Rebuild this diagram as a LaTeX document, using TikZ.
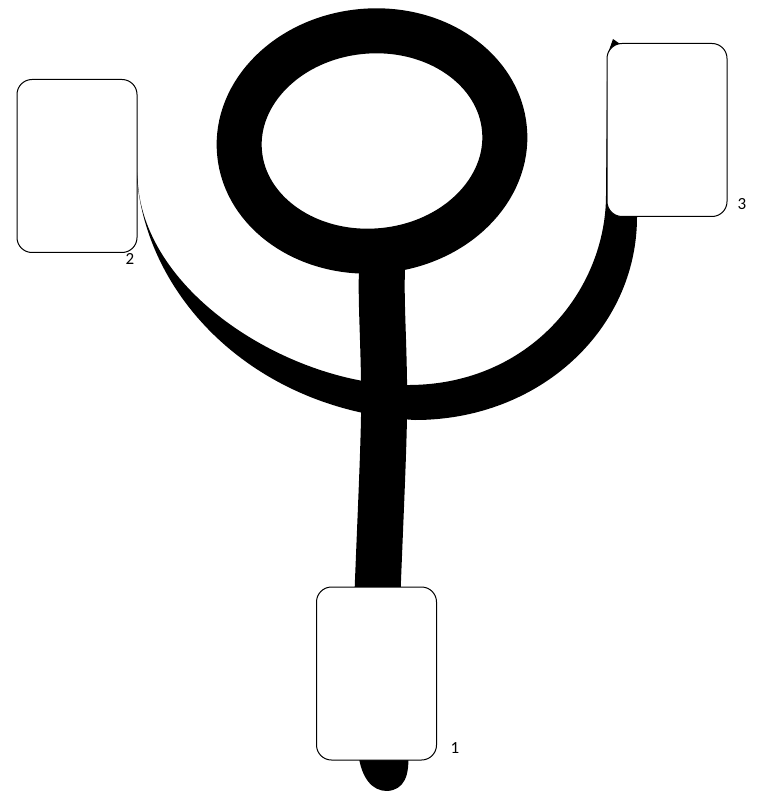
\documentclass[tikz,border=0pt]{standalone}
\usepackage{fontspec}
\setmainfont{Carlito}
\begin{document}
\begin{tikzpicture}[x=1pt,y=-1pt,
  box/.style={draw=black,line width=1pt,fill=white,rounded corners=15pt,minimum width=120pt,minimum height=173pt,inner sep=0pt},
  lbl/.style={font=\fontsize{17}{17}\selectfont,inner sep=0pt},
  thick stroke/.style={line width=46pt,line cap=butt,line join=round}]
\useasboundingbox (0,0) rectangle (760,791);
% named anchor points for connectors
\coordinate (tail) at (384,762);
\coordinate (loopb) at (383,250);
\coordinate (loopc) at (372,141);
% vertical stroke
\draw[thick stroke] (tail) .. controls (380,700) and (376,620) .. (378,580)
  .. controls (382,480) and (385,420) .. (384,380)
  .. controls (383,320) and (380,290) .. (loopb);
\fill (358,752) .. controls (361,778) and (372,791) .. (387,791)
  .. controls (404,790) and (410,776) .. (408,752) -- cycle;
% loop
\draw[line width=45pt,rotate around={5:(loopc)}] (loopc) ellipse [x radius=133, y radius=110];
% tapered stroke from node 2 to node 3
\fill (136,160) .. controls (137,290) and (250,410) .. (415,420)
  .. controls (540,420) and (637,329) .. (637,217)
  -- (638,80) -- (607,80) -- (606,195)
  .. controls (606,290) and (530,384) .. (410,385)
  .. controls (300,387) and (148,300) .. (138,185) -- cycle;
\fill (613,39) -- (623,46) -- (608,53) -- cycle;
% nodes
\node[box] (n1) at (376.5,673.5) {};
\node[box] (n2) at (77,166) {};
\node[box] (n3) at (667,130) {};
\node[lbl] (l1) at (455,748) {1};
\node[lbl] (l2) at (130,259) {2};
\node[lbl] (l3) at (742,204) {3};
\end{tikzpicture}
\end{document}
